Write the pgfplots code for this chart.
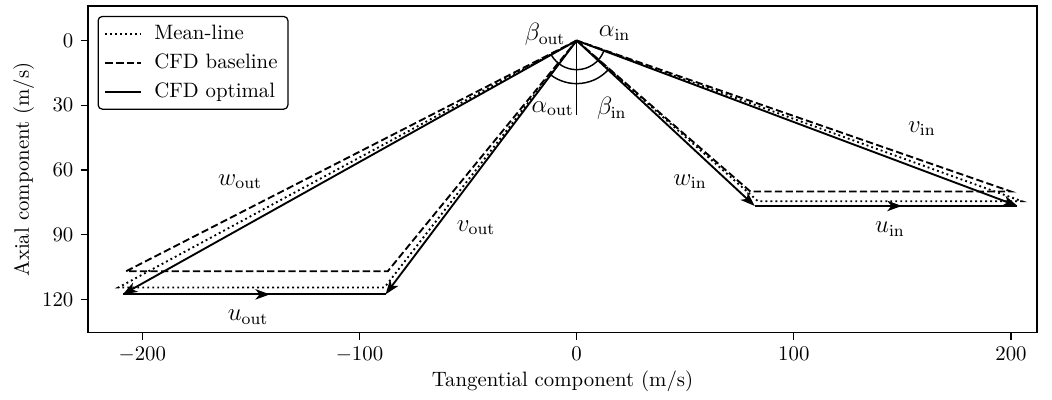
\documentclass[border=0pt]{standalone}
\usepackage{pgfplots}
\pgfplotsset{compat=1.18}
\usetikzlibrary{arrows.meta,decorations.markings}

\tikzset{
  vline/.style={line width=0.9pt, black},
  meanline/.style={vline, dash pattern=on 0.9pt off 1.5pt},
  baseline/.style={vline, dash pattern=on 3.5pt off 1.6pt},
  optimal/.style={vline, solid},
  tip/.style={-{Stealth[length=7pt,width=5pt,inset=2pt]}},
  midarrow/.style={postaction={decorate},
    decoration={markings, mark=at position 0.56 with {\arrow{Stealth[length=7pt,width=5pt,inset=2pt]}}}},
  annot/.style={font=\fontsize{11.5pt}{14pt}\selectfont},
}

\begin{document}
\begin{tikzpicture}
\begin{axis}[
  scale only axis,
  width=456pt, height=157pt,
  xmin=-225, xmax=212,
  ymin=-16, ymax=135.5,
  y dir=reverse,
  xtick={-200,-100,0,100,200},
  ytick={0,30,60,90,120},
  tick align=outside,
  tick pos=left,
  major tick length=3.5pt,
  axis line style={line width=0.6pt},
  every tick/.style={black, line width=0.6pt},
  xlabel={Tangential component (m/s)},
  ylabel={Axial component (m/s)},
  xlabel style={yshift=3pt},
  ylabel style={yshift=-3pt},
  legend cell align=left,
  legend style={at={(0.01,0.97)}, anchor=north west, rounded corners=2pt,
    draw=black, line width=0.6pt, row sep=1.5pt, column sep=4pt, inner xsep=3pt},
  legend image post style={line width=0.9pt},
]
% legend entries
\addlegendimage{meanline}
\addlegendentry{Mean-line}
\addlegendimage{baseline}
\addlegendentry{CFD baseline}
\addlegendimage{optimal}
\addlegendentry{CFD optimal}

% mean-line triangles
\addplot[meanline, forget plot] coordinates {(0,0) (83.5,74.5) (205,74.5) (0,0)};
\addplot[meanline, forget plot] coordinates {(0,0) (-211,114.5) (-88.5,114.5) (0,0)};

% CFD baseline triangles
\addplot[baseline, forget plot] coordinates {(0,0) (80,70) (200,70) (0,0)};
\addplot[baseline, forget plot] coordinates {(0,0) (-207.5,107) (-87,107) (0,0)};

% CFD optimal: inlet
\addplot[optimal, tip, forget plot] coordinates {(0,0) (82,76.7)};
\addplot[optimal, tip, forget plot] coordinates {(0,0) (203,76.7)};
\addplot[optimal, midarrow, forget plot] coordinates {(82,76.7) (203,76.7)};
% CFD optimal: outlet
\addplot[optimal, tip, forget plot] coordinates {(0,0) (-209,117.7)};
\addplot[optimal, tip, forget plot] coordinates {(0,0) (-88,117.7)};
\addplot[optimal, midarrow, forget plot] coordinates {(-209,117.7) (-88,117.7)};

% axial reference and flow angles
\addplot[black, line width=0.7pt, forget plot] coordinates {(0,0) (0,34.4)};
\draw[line width=0.7pt] (axis cs:0,0) ++(-150.6:14pt) arc[start angle=-150.6, end angle=-90, radius=14pt];
\draw[line width=0.7pt] (axis cs:0,0) ++(-126.8:20.7pt) arc[start angle=-126.8, end angle=-90, radius=20.7pt];
\draw[line width=0.7pt] (axis cs:0,0) ++(-90:14pt) arc[start angle=-90, end angle=-20.7, radius=14pt];
\draw[line width=0.7pt] (axis cs:0,0) ++(-90:20.7pt) arc[start angle=-90, end angle=-43.1, radius=20.7pt];

\node[annot] at (axis cs:-14.5,-3) {$\beta_\mathrm{out}$};
\node[annot] at (axis cs:17.5,-3.4) {$\alpha_\mathrm{in}$};
\node[annot] at (axis cs:-11,31.6) {$\alpha_\mathrm{out}$};
\node[annot] at (axis cs:16.2,31.4) {$\beta_\mathrm{in}$};

\node[annot] at (axis cs:-155,65.4) {$w_\mathrm{out}$};
\node[annot] at (axis cs:-46.3,86.7) {$v_\mathrm{out}$};
\node[annot] at (axis cs:-151.3,128.2) {$u_\mathrm{out}$};
\node[annot] at (axis cs:159,40.9) {$v_\mathrm{in}$};
\node[annot] at (axis cs:52.2,65.4) {$w_\mathrm{in}$};
\node[annot] at (axis cs:144.3,87.6) {$u_\mathrm{in}$};
\end{axis}
\pgfresetboundingbox
\path ([shift={(-42.3pt,-32.2pt)}]current axis.south west)
  rectangle ([shift={(7.2pt,2.9pt)}]current axis.north east);
\end{tikzpicture}
\end{document}
